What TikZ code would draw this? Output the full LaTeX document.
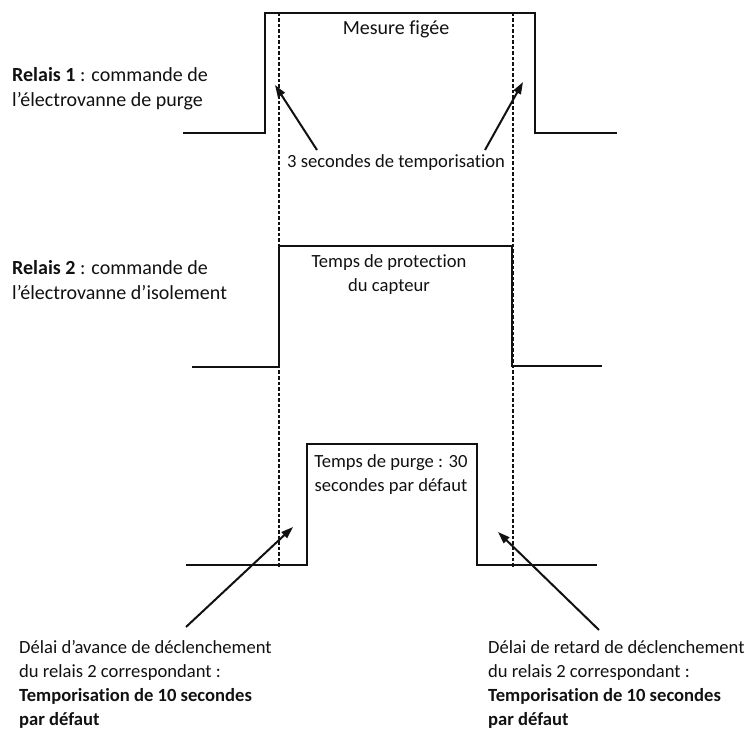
\documentclass[tikz,border=0pt]{standalone}
\usepackage{fontspec}
\setmainfont{Carlito}[Ligatures=NoCommon]
\usetikzlibrary{arrows.meta}
\definecolor{ink}{HTML}{111111}
\begin{document}
\begin{tikzpicture}[x=1pt,y=-1pt,
 wave/.style={line width=2.4pt, line join=miter, draw=ink},
 guide/.style={line width=2.6pt, dash pattern=on 3.5pt off 2pt, draw=ink},
 pointer/.style={line width=2pt, draw=ink, -{Triangle[length=12pt,width=8pt]}},
 lbl/.style={font=\fontsize{18.6}{24}\selectfont, inner sep=0pt, text=ink},
 sidelbl/.style={font=\fontsize{20}{25}\selectfont, inner sep=0pt, text=ink},
]
\useasboundingbox (0,0) rectangle (745,730);
% signals
\draw[wave] (183,133) -- (265,133) -- (265,13) -- (535,13) -- (535,133) -- (617,133);
\draw[wave] (192,367) -- (279,367) -- (279,246) -- (512,246) -- (512,366) -- (602,366);
\draw[wave] (186,565) -- (307,565) -- (307,444) -- (477,444) -- (477,565) -- (597,565);
% guides
\draw[guide] (279,13) -- (279,567);
\draw[guide] (513,13) -- (513,567);
% labels
\node[lbl, font=\fontsize{20}{24}\selectfont] (mes) at (396,29) {Mesure figée};
\node[lbl] (tempo) at (396,163) {3 secondes de temporisation};
\node[sidelbl, anchor=west, align=left] (r1) at (12,89) {\textbf{Relais 1} : commande de\\l’électrovanne de purge};
\node[sidelbl, anchor=west, align=left] (r2) at (12,280) {\textbf{Relais 2} : commande de\\l’électrovanne d’isolement};
\node[lbl, align=center] (prot) at (389,275) {Temps de protection\\du capteur};
\node[lbl, align=center] (purge) at (391,475) {Temps de purge : 30\\secondes par défaut};
\node[lbl, anchor=north west, align=left] (avance) at (19,640) {Délai d’avance de déclenchement\\du relais 2 correspondant :\\\textbf{Temporisation de 10 secondes}\\\textbf{par défaut}};
\node[lbl, anchor=north west, align=left] (retard) at (488,640) {Délai de retard de déclenchement\\du relais 2 correspondant :\\\textbf{Temporisation de 10 secondes}\\\textbf{par défaut}};
% arrow ends
\coordinate (t1) at (317,150);
\coordinate (h1) at (275,85);
\coordinate (t2) at (485,150);
\coordinate (h2) at (523,82);
\coordinate (t3) at (186,627);
\coordinate (h3) at (293,527);
\coordinate (t4) at (599,630);
\coordinate (h4) at (498,532);
\draw[pointer] (t1) -- (h1);
\draw[pointer] (t2) -- (h2);
\draw[pointer] (t3) -- (h3);
\draw[pointer] (t4) -- (h4);
\end{tikzpicture}
\end{document}
